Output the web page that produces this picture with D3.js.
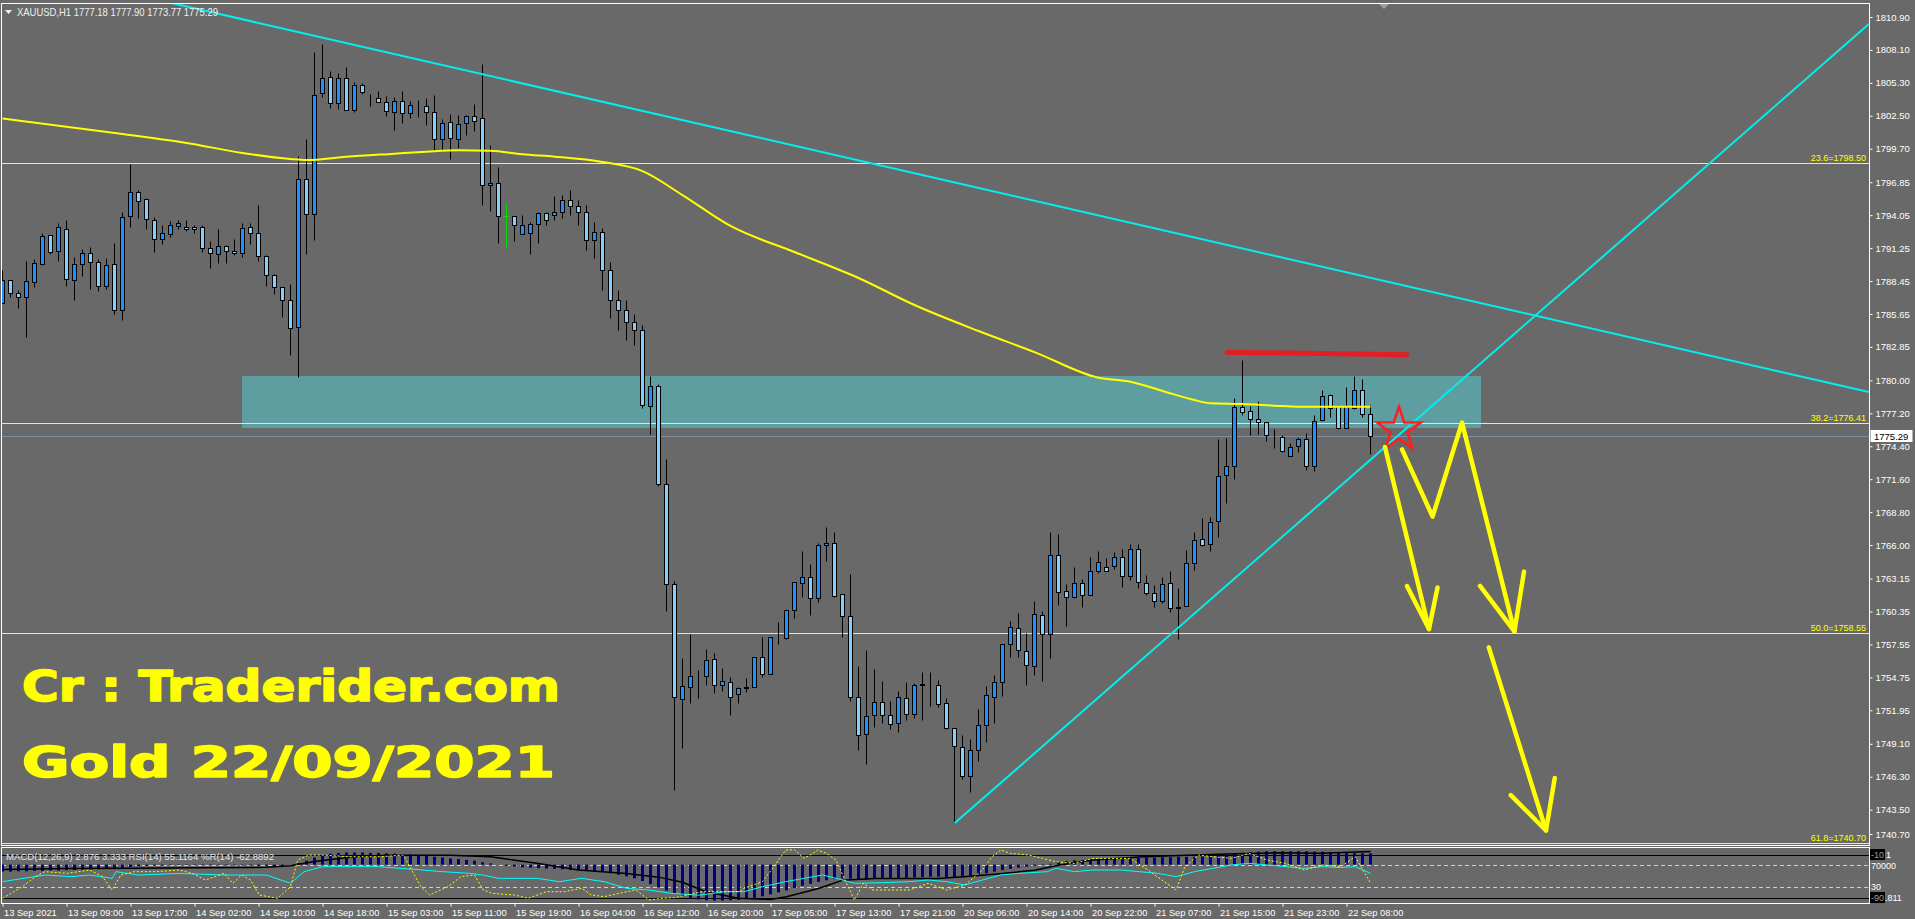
<!DOCTYPE html>
<html><head><meta charset="utf-8">
<script src="https://cdn.jsdelivr.net/npm/d3@7"></script>
<style>
html,body{margin:0;padding:0;background:#696969;overflow:hidden;}
svg{display:block;}
</style></head><body>
<svg id="c" width="1915" height="919"></svg>
<script>
// ---------------- DATA ----------------
const symbolHeader = "XAUUSD,H1  1777.18 1777.90 1773.77 1775.29";
const indicatorHeader = "MACD(12,26,9) 2.876 3.333  RSI(14) 55.1164  %R(14) -62.8892";

const opens = [1786.55,1788.51,1787.40,1787.12,1788.39,1789.92,1792.33,1790.97,1792.84,1788.51,1789.87,1790.80,1790.04,1788.00,1789.87,1785.96,1793.95,1795.99,1795.39,1793.61,1791.99,1792.42,1793.16,1793.01,1793.01,1793.01,1791.23,1790.72,1791.40,1790.97,1790.80,1793.01,1792.50,1790.55,1788.93,1787.91,1786.84,1784.51,1797.10,1794.12,1804.41,1805.77,1803.56,1805.69,1802.96,1805.09,1803.98,1803.98,1803.65,1802.79,1803.73,1802.71,1803.33,1803.30,1802.79,1800.50,1801.94,1800.50,1801.86,1802.45,1802.28,1796.59,1796.76,1793.95,1793.95,1792.42,1792.51,1793.27,1794.21,1794.03,1794.32,1795.34,1794.83,1794.32,1791.94,1792.62,1789.39,1786.84,1785.99,1784.97,1784.28,1777.79,1779.49,1771.16,1762.65,1752.87,1753.90,1754.92,1754.83,1756.28,1754.07,1754.32,1753.30,1753.87,1753.90,1756.45,1755.03,1758.15,1758.07,1760.45,1762.74,1763.25,1761.47,1765.98,1766.15,1761.81,1759.94,1753.05,1749.90,1751.52,1752.62,1751.52,1750.84,1752.96,1751.60,1754.13,1754.13,1754.07,1752.54,1750.41,1748.80,1746.33,1748.54,1750.67,1753.05,1754.33,1757.56,1758.92,1756.96,1755.69,1760.02,1758.41,1765.12,1762.06,1761.55,1762.74,1761.72,1763.76,1764.10,1764.19,1764.95,1763.33,1765.63,1762.74,1761.89,1761.21,1762.74,1760.67,1760.78,1764.44,1766.48,1766.05,1768.01,1771.92,1772.69,1777.70,1777.36,1776.68,1776.43,1775.27,1775.15,1773.54,1774.39,1774.98,1772.69,1776.60,1778.72,1777.79,1775.92,1777.62,1779.15,1777.18];
const highs = [1789.39,1788.51,1787.69,1790.15,1790.32,1792.53,1792.33,1793.38,1793.64,1790.49,1791.17,1791.34,1790.32,1790.41,1791.68,1794.32,1798.40,1796.19,1795.51,1793.89,1793.21,1793.55,1793.64,1793.64,1793.18,1793.18,1791.85,1792.87,1791.51,1792.02,1793.38,1793.38,1794.91,1790.63,1789.05,1787.91,1788.20,1799.08,1800.53,1807.90,1808.60,1806.31,1806.14,1806.65,1805.35,1805.26,1804.33,1804.61,1804.18,1804.07,1804.61,1803.76,1803.81,1803.98,1804.27,1802.23,1802.62,1802.54,1802.57,1803.50,1806.93,1800.02,1798.15,1795.11,1793.95,1794.06,1793.44,1794.29,1794.29,1795.71,1795.76,1796.19,1795.34,1794.91,1793.47,1792.96,1790.07,1787.69,1786.84,1785.65,1784.71,1780.37,1779.69,1773.31,1762.94,1756.39,1758.43,1755.37,1757.15,1756.81,1755.54,1754.77,1753.90,1754.66,1756.45,1758.21,1758.18,1759.46,1760.56,1762.83,1765.49,1764.39,1766.17,1767.53,1767.11,1761.81,1763.54,1755.71,1757.07,1755.46,1754.44,1752.74,1753.59,1754.35,1754.24,1755.20,1755.20,1754.52,1752.99,1750.41,1749.82,1749.48,1752.03,1753.99,1754.92,1757.56,1759.51,1760.19,1758.49,1761.21,1760.36,1767.08,1766.94,1762.66,1764.13,1763.08,1764.95,1765.46,1764.87,1765.38,1765.63,1766.06,1766.06,1763.42,1762.57,1763.25,1763.76,1762.31,1765.54,1767.07,1768.27,1768.35,1775.04,1775.07,1778.47,1781.70,1777.79,1778.21,1776.43,1775.86,1775.32,1774.64,1775.15,1775.49,1777.02,1779.15,1778.84,1777.87,1779.43,1780.37,1780.09,1777.90];
const lows = [1786.55,1787.12,1786.13,1783.72,1787.97,1789.81,1790.77,1790.15,1788.05,1786.83,1788.90,1787.80,1787.63,1787.80,1785.67,1785.16,1793.07,1793.84,1792.90,1790.94,1791.62,1792.22,1792.90,1792.73,1792.50,1790.89,1789.58,1790.01,1790.01,1790.63,1790.46,1791.62,1790.12,1788.05,1787.37,1785.42,1782.16,1780.32,1790.78,1791.94,1804.13,1803.19,1803.11,1802.96,1802.85,1804.33,1803.36,1803.65,1802.51,1801.32,1801.92,1802.34,1802.43,1801.75,1799.62,1799.53,1798.85,1799.79,1800.89,1801.23,1794.89,1794.43,1791.71,1791.29,1791.82,1792.42,1790.72,1791.71,1793.19,1793.61,1793.81,1794.06,1793.21,1791.09,1790.41,1787.69,1785.30,1784.28,1783.43,1783.01,1777.63,1775.47,1771.04,1760.41,1745.19,1748.76,1752.59,1753.02,1754.09,1753.44,1753.61,1751.57,1752.59,1753.53,1753.90,1754.75,1755.03,1757.58,1757.98,1759.82,1761.58,1760.05,1761.18,1764.67,1761.61,1758.21,1752.77,1748.60,1747.41,1750.56,1750.90,1750.33,1750.07,1751.09,1751.32,1751.15,1752.28,1752.20,1750.33,1742.34,1746.08,1745.03,1747.66,1749.22,1750.84,1753.13,1756.51,1756.51,1754.13,1754.98,1754.47,1756.37,1760.93,1759.14,1761.47,1760.76,1761.72,1763.59,1763.76,1763.93,1762.46,1762.99,1762.31,1761.72,1760.75,1761.04,1760.33,1757.98,1760.78,1763.84,1765.88,1765.46,1766.65,1769.60,1771.58,1777.02,1775.38,1775.46,1774.81,1774.22,1773.88,1773.54,1773.88,1772.35,1772.26,1776.51,1776.85,1775.83,1775.92,1777.53,1776.85,1773.77];
const closes = [1788.54,1787.40,1787.12,1788.42,1789.95,1792.25,1790.89,1793.01,1788.59,1789.87,1790.80,1790.04,1788.00,1789.78,1785.96,1793.86,1795.99,1795.22,1793.69,1791.99,1792.50,1793.18,1793.35,1792.84,1792.84,1791.23,1790.80,1791.40,1790.97,1790.80,1792.93,1792.50,1790.55,1788.93,1787.91,1786.81,1784.43,1797.10,1794.12,1804.24,1805.69,1803.56,1805.69,1802.96,1805.09,1804.50,1804.01,1803.65,1802.88,1803.73,1802.71,1803.39,1803.36,1802.79,1800.50,1801.86,1800.58,1801.77,1802.45,1802.03,1796.59,1796.76,1793.95,1793.95,1793.19,1793.19,1793.27,1794.21,1793.61,1794.29,1795.34,1794.83,1794.32,1791.94,1792.62,1789.39,1786.84,1785.99,1784.97,1784.28,1777.91,1779.49,1771.21,1762.65,1753.04,1753.98,1754.83,1754.95,1756.19,1754.07,1754.41,1753.04,1753.81,1753.90,1756.45,1755.03,1758.18,1758.18,1760.45,1762.83,1763.25,1761.47,1765.98,1766.15,1761.69,1759.94,1753.05,1749.82,1751.43,1752.62,1751.52,1750.75,1753.05,1751.60,1754.07,1754.16,1754.10,1752.45,1750.41,1748.88,1746.33,1748.54,1750.67,1753.22,1754.33,1757.56,1759.00,1757.05,1755.77,1760.11,1758.41,1765.12,1761.98,1761.55,1762.74,1761.72,1763.76,1764.53,1763.76,1764.95,1763.33,1765.63,1762.82,1761.89,1761.21,1762.65,1760.61,1760.70,1764.44,1766.39,1765.97,1767.93,1771.84,1772.69,1777.70,1777.28,1776.68,1776.43,1775.32,1775.30,1773.96,1774.30,1774.98,1772.69,1776.51,1778.64,1777.62,1775.92,1777.79,1779.15,1777.11,1775.29];

// moving average (read at sample bars)
const maBars = [0,15,23,30,36,38,43,49,53,57,61,65,69,75,80,85,91,99,107,114,122,129,137,141,145,149,151,155,159,162,171];
const maVals = [1802.27,1800.95,1800.19,1799.34,1798.83,1798.74,1799.02,1799.28,1799.45,1799.57,1799.53,1799.22,1799.02,1798.57,1797.80,1795.76,1793.13,1790.92,1788.71,1786.41,1784.20,1782.41,1780.23,1779.89,1779.10,1778.33,1778.05,1777.99,1777.85,1777.76,1777.76];

// price axis ticks
const priceTicks = [1810.90,1808.10,1805.30,1802.50,1799.70,1796.85,1794.05,1791.25,1788.45,1785.65,1782.85,1780.00,1777.20,1774.40,1771.60,1768.80,1766.00,1763.15,1760.35,1757.55,1754.75,1751.95,1749.10,1746.30,1743.50,1740.70];
const lastPrice = 1775.29;

// time axis
const timeBars = [0,8,16,24,32,40,48,56,64,72,80,88,96,104,112,120,128,136,144,152,160,168];
const timeLabels = ["13 Sep 2021","13 Sep 09:00","13 Sep 17:00","14 Sep 02:00","14 Sep 10:00","14 Sep 18:00","15 Sep 03:00","15 Sep 11:00","15 Sep 19:00","16 Sep 04:00","16 Sep 12:00","16 Sep 20:00","17 Sep 05:00","17 Sep 13:00","17 Sep 21:00","20 Sep 06:00","20 Sep 14:00","20 Sep 22:00","21 Sep 07:00","21 Sep 15:00","21 Sep 23:00","22 Sep 08:00"];

// fibonacci levels
const fibPrices = [1798.50,1776.41,1758.55,1740.70];
const fibLabels = ["23.6=1798.50","38.2=1776.41","50.0=1758.55","61.8=1740.70"];

// drawn objects (bar index, price)
const zoneBars = [29.98,184.9];
const zonePrices = [1780.37,1775.99];
const trendDownBars = [21.0,233.3];
const trendDownPrices = [1812.11,1779.01];
const trendUpBars = [119,233.3];
const trendUpPrices = [1742.34,1810.30];
const redLineBars = [153.06,175.56];
const redLinePrices = [1782.39,1782.19];
const starBar = 174.56, starPrice = 1775.81;
const arrowPaths = [
  {bars:[172.81,178.31], prices:[1774.34,1758.86], headBars:[175.56,179.38], headPrices:[1762.52,1762.39]},
  {bars:[174.94,178.76,182.44,188.99], prices:[1774.13,1768.42,1776.41,1758.66], headBars:[184.69,190.19], headPrices:[1762.52,1763.74]},
  {bars:[185.79,192.94], prices:[1757.30,1741.73], headBars:[188.53,194.03], headPrices:[1744.74,1746.19]}
];
const watermark = ["Cr : Traderider.com","Gold 22/09/2021"];

// indicators
const macdHist = [-1.8,-1.8,-1.7,-1.7,-1.6,-1.6,-1.5,-1.5,-1.4,-1.4,-1.3,-1.2,-1.2,-1.1,-1.0,
 -0.8,-0.6,-0.4,-0.3,-0.2,-0.2,-0.1,-0.1,-0.1,-0.1,-0.1,-0.1,-0.1,-0.2,-0.2,-0.2,-0.2,-0.3,-0.3,-0.4,-0.4,
 0.0,0.4,1.0,1.8,2.4,
 2.8,3.0,3.1,3.1,3.1,3.0,3.0,2.9,2.8,2.7,2.6,2.4,
 2.2,2.0,1.8,1.6,1.4,1.2,1.0,0.6,0.3,0.0,-0.3,-0.5,
 -0.7,-0.8,-0.9,-1.0,-1.1,-1.2,-1.3,-1.4,-1.5,-1.7,-1.9,
 -2.2,-2.6,-3.0,-3.5,-4.2,-5.0,-5.8,-6.6,-7.4,
 -8.0,-8.5,-8.9,-9.1,-9.2,-9.2,-9.1,-9.0,-8.8,-8.5,-8.1,
 -7.6,-7.1,-6.6,-6.0,-5.4,-4.9,-4.4,-4.0,
 -3.7,-3.5,-3.6,-3.8,-3.8,-3.7,-3.6,-3.6,-3.5,-3.4,-3.3,-3.2,-3.1,-3.1,-3.2,-3.3,-3.3,
 -3.0,-2.6,-2.2,-1.8,-1.4,-1.1,-0.8,-0.5,-0.3,-0.1,
 0.2,0.6,0.9,1.1,1.2,1.3,1.4,1.5,1.5,1.6,1.6,
 1.7,1.8,1.8,1.9,1.9,2.0,2.0,2.0,2.1,2.2,2.4,
 2.6,2.8,3.0,3.2,3.3,3.4,3.4,3.4,3.4,3.4,3.4,3.3,3.3,3.2,3.1,3.0,2.9,2.9,2.876];
const signalBars = [0,8,16,25,33,36,39,44,48,56,61,67,72,78,82,85,88,92,96,98,102,105,109,117,121,125,129,132,136,142,148,154,159,165,171];
const signalVals = [-1.25,-1.0,-0.9,-0.8,-0.7,-0.3,0.8,2.0,2.4,2.4,2.0,0.3,-1.4,-2.3,-3.2,-4.5,-7.0,-8.6,-8.9,-8.2,-6.1,-4.0,-3.55,-3.55,-2.95,-2.27,-1.42,-0.15,1.12,1.96,2.39,2.8,3.0,2.9,3.333];
const rsiBars = [0,5.3,8.6,10.9,13.7,14.2,17,22,28,33,36,37.7,40,47,52,55,58.4,60,62,66.8,69.6,72.4,75.2,78,80.8,83.6,87,90.4,92.7,95,97.9,100.2,102.5,104.2,106.5,110,113.4,115.7,118,120.3,122.5,124.8,127.1,130.6,131.7,134,136.3,139.8,142.1,144.4,146.7,149,151.3,153.6,155.8,158.1,160.4,162.7,165,167.3,169.1,171];
const rsiVals = [39.7,52.1,49.0,52.1,45.9,58.3,52,55,52,52,36.6,58.3,67.6,67.6,62,58.3,55.2,52.1,45.9,45.9,39.7,45.9,39.7,27.3,24.2,18.0,14.5,21.1,21.1,30.4,39.7,45.9,52.1,45.9,36.6,37.8,39.7,42.8,39.7,33.5,42.8,52.1,55.2,58.3,64.5,58.3,61.4,61.4,58.3,55.2,49.0,58.3,64.5,70.7,73.8,70.7,67.6,64.5,67.6,66,67.6,55.1];
const wprBars = [0,2.5,4.1,5.3,8.1,10.9,12.5,13.7,14.8,16.5,19.3,22.1,23.7,25.4,27.7,28.8,29.9,31,32.1,34.4,36,36.9,38.3,40,43.3,47.3,50.1,52.3,53.4,55.7,57.3,59,60.1,61.2,64,65.7,68,70.2,72.4,73.6,75.2,78,79.2,80.8,82.5,84,87.5,92.1,92.7,95,96.1,97.9,99,100.2,101.3,101.9,103,104.2,105.3,106.5,107.6,108.8,111.1,113.4,115.7,118,120.3,122.5,123.7,124.8,126,128.3,130,131.7,134,136.3,138.6,140.9,143.2,145.5,146.7,147.8,149.5,151.3,153.6,155.8,158.1,160.4,162.7,165,167.3,169.1,171];
const wprVals = [-91.3,-69.6,-51,-41.7,-44.8,-38.6,-51,-75.8,-47.9,-41.7,-41.7,-38.6,-44.8,-57.2,-44.8,-63.4,-47.9,-57.2,-85.1,-91.3,-69.6,-20.1,-10.8,-10.8,-13.9,-13.9,-10.8,-69.6,-85.1,-69.6,-51,-47.9,-75.8,-82,-85.1,-91.3,-78.9,-78.9,-72.7,-85.1,-88.2,-78.9,-75.8,-94.4,-91.3,-90,-78.9,-78.9,-72.7,-60.3,-38.6,-1.5,-1,-17,-7.7,-1.5,-7.7,-20.1,-57.2,-94.4,-63.4,-75.8,-75.8,-75.8,-63.4,-75.8,-66.5,-38.6,-13.9,-1.5,-7.7,-10.8,-17,-23.3,-26.4,-17,-17,-17,-38.6,-63.4,-75.8,-32.4,-10.8,-13.9,-17,-7.7,-20.1,-26.4,-38.6,-29.3,-32.4,-13.9,-62.9];
const rsiLevels = [70,30];
const wprLevels = [-10,-90];

// ---------------- DRAW ----------------
const BG = "#696969";
const FONT = "'Liberation Sans', Arial, sans-serif";
const svg = d3.select("#c");
svg.append("rect").attr("width",1915).attr("height",919).attr("fill",BG);

const x = d3.scaleLinear().domain([0,171]).range([2.5,1370.5]);
const y = d3.scaleLinear().domain([1740.70,1810.90]).range([842.6,17]);
const py = v => Math.round(y(v)) + 0.5;

const defs = svg.append("defs");
defs.append("clipPath").attr("id","mainClip").append("rect").attr("x",2).attr("y",4).attr("width",1867).attr("height",841);
defs.append("clipPath").attr("id","indClip").append("rect").attr("x",2).attr("y",848).attr("width",1867).attr("height",55);

const main = svg.append("g").attr("clip-path","url(#mainClip)");

// zone rectangle
main.append("rect")
  .attr("x", Math.round(x(zoneBars[0])))
  .attr("y", Math.round(y(zonePrices[0])))
  .attr("width", Math.round(x(zoneBars[1]) - x(zoneBars[0])))
  .attr("height", Math.round(y(zonePrices[1]) - y(zonePrices[0])))
  .attr("fill","#5F9EA0");

// fib lines
main.selectAll("line.fib").data(fibPrices).join("line")
  .attr("x1",0).attr("x2",1869).attr("y1",d=>py(d)).attr("y2",d=>py(d))
  .attr("stroke","#FFFF00").attr("stroke-width",1);
main.selectAll("text.fib").data(fibLabels).join("text")
  .attr("x",1866).attr("y",(d,i)=>py(fibPrices[i]) - 2.5)
  .attr("text-anchor","end").attr("fill","#FFFF00")
  .style("font-family",FONT).style("font-size","9px").text(d=>d);

// current price line
main.append("line").attr("x1",0).attr("x2",1869).attr("y1",py(lastPrice)).attr("y2",py(lastPrice))
  .attr("stroke","#7B8FA3").attr("stroke-width",1);

// candles
const bars = d3.range(opens.length).map(i=>({i,o:opens[i],h:highs[i],l:lows[i],c:closes[i]}));
const cg = main.append("g");
bars.forEach(b=>{
  const cx = x(b.i);
  const isDoji = b.o === b.c;
  cg.append("line").attr("x1",cx).attr("x2",cx).attr("y1",py(b.h)).attr("y2",py(b.l))
    .attr("stroke", isDoji ? "#00DD00" : "#000").attr("stroke-width",1);
  if (isDoji) {
    cg.append("line").attr("x1",cx-3).attr("x2",cx+3).attr("y1",py(b.o)).attr("y2",py(b.o))
      .attr("stroke","#00DD00").attr("stroke-width",1);
  } else {
    const top = py(Math.max(b.o,b.c)), bot = py(Math.min(b.o,b.c));
    cg.append("rect").attr("x",cx-2).attr("y",top).attr("width",4).attr("height",Math.max(bot-top,0))
      .attr("fill", b.c > b.o ? "#1E90FF" : "#87CEFA").attr("stroke","#000").attr("stroke-width",1);
  }
});

// moving average
main.append("path").datum(maBars.map((b,k)=>[b,maVals[k]]))
  .attr("d", d3.line().x(d=>x(d[0])).y(d=>y(d[1])).curve(d3.curveMonotoneX))
  .attr("fill","none").attr("stroke","#FFFF00").attr("stroke-width",2);

// trend lines
[[trendDownBars,trendDownPrices],[trendUpBars,trendUpPrices]].forEach(([bs,ps])=>{
  main.append("line").attr("x1",x(bs[0])).attr("y1",y(ps[0])).attr("x2",x(bs[1])).attr("y2",y(ps[1]))
    .attr("stroke","#00F0F0").attr("stroke-width",2);
});

// red resistance line
main.append("line").attr("x1",x(redLineBars[0])).attr("y1",y(redLinePrices[0]))
  .attr("x2",x(redLineBars[1])).attr("y2",y(redLinePrices[1]))
  .attr("stroke","#E31E24").attr("stroke-width",5).attr("stroke-linecap","round");

// star
{
  const cx = x(starBar), cy = y(starPrice), rO = 23, rI = 9;
  const pts = d3.range(10).map(k=>{const r = k%2 ? rI : rO; const a = -Math.PI/2 + k*Math.PI/5; return [cx+r*Math.cos(a), cy+r*Math.sin(a)];});
  main.append("polygon").attr("points",pts.map(p=>p.join(",")).join(" "))
    .attr("fill","none").attr("stroke","#FF1E1E").attr("stroke-width",2.5).attr("stroke-linejoin","miter");
}

// arrows
const aLine = d3.line().x(d=>x(d[0])).y(d=>y(d[1]));
arrowPaths.forEach(a=>{
  const pts = a.bars.map((b,k)=>[b,a.prices[k]]);
  const tip = pts[pts.length-1];
  main.append("path").datum(pts).attr("d",aLine).attr("fill","none")
    .attr("stroke","#FFFF00").attr("stroke-width",4.5).attr("stroke-linecap","round").attr("stroke-linejoin","round");
  main.append("path").datum([[a.headBars[0],a.headPrices[0]],tip,[a.headBars[1],a.headPrices[1]]]).attr("d",aLine).attr("fill","none")
    .attr("stroke","#FFFF00").attr("stroke-width",4.5).attr("stroke-linecap","round").attr("stroke-linejoin","round");
});

// watermark texts
svg.selectAll("text.wm").data(watermark).join("text")
  .attr("x",22).attr("y",(d,i)=> i===0 ? 701 : 777)
  .attr("textLength",(d,i)=> i===0 ? 538 : 533).attr("lengthAdjust","spacingAndGlyphs")
  .attr("fill","#FFFF00").attr("stroke","#FFFF00").attr("stroke-width",1.6).attr("stroke-linejoin","round")
  .style("font-family","'DejaVu Sans', sans-serif").style("font-weight","bold")
  .style("font-size","43px").text(d=>d);

// chart shift marker
svg.append("polygon").attr("points","1379,4 1389,4 1384,9").attr("fill","#a0a0a0");

// header
svg.append("polygon").attr("points","5,10 12,10 8.5,14").attr("fill","#f0f0f0");
svg.append("text").attr("x",17).attr("y",16).attr("textLength",201).attr("lengthAdjust","spacingAndGlyphs")
  .attr("fill","#f0f0f0").style("font-family",FONT).style("font-size","10.5px").text(symbolHeader);

// frames
svg.append("rect").attr("x",1.5).attr("y",3.5).attr("width",1868).attr("height",842).attr("fill","none").attr("stroke","#fff");
svg.append("rect").attr("x",1.5).attr("y",847.5).attr("width",1868).attr("height",56).attr("fill","none").attr("stroke","#fff");

// price axis
const yAxis = d3.axisRight(y).tickValues(priceTicks).tickFormat(d3.format(".2f")).tickSize(3).tickPadding(3);
const gy = svg.append("g").attr("transform","translate(1869.5,0)").call(yAxis);
gy.select(".domain").remove();
gy.attr("font-family",FONT).attr("font-size",9.5);
gy.selectAll(".tick line").attr("stroke","#fff");
gy.selectAll(".tick text").attr("fill","#fff");
gy.selectAll(".tick").filter(d=>d===1740.70).attr("transform","translate(0,834.5)");

// last price box
svg.append("rect").attr("x",1870.5).attr("y",Math.round(y(lastPrice))-6).attr("width",42).attr("height",12).attr("fill","#fff");
svg.append("text").attr("x",1874).attr("y",Math.round(y(lastPrice))+3.5).attr("fill","#000")
  .style("font-family",FONT).style("font-size","9.5px").text(lastPrice.toFixed(2));

// time axis
const xAxis = d3.axisBottom(x).tickValues(timeBars).tickFormat((d,i)=>timeLabels[i]).tickSize(3);
const gx = svg.append("g").attr("transform","translate(0,903.5)").call(xAxis);
gx.select(".domain").remove();
gx.attr("font-family",FONT).attr("font-size",9.3);
gx.selectAll(".tick line").attr("stroke","#fff");
gx.selectAll(".tick text").attr("fill","#fff").attr("text-anchor","start").attr("x",1).attr("y",12).attr("dy",0);

// ---------------- INDICATOR WINDOW ----------------
const yInd = d3.scaleLinear().domain([0,100]).range([903,849.25]);
const yW = d3.scaleLinear().domain([-100,0]).range([903,849.25]);
const yM = d3.scaleLinear().domain([-9.811,4.5]).range([903,847]);
const ind = svg.append("g").attr("clip-path","url(#indClip)");

ind.selectAll("line.lvl").data(rsiLevels).join("line")
  .attr("x1",2).attr("x2",1869).attr("y1",d=>Math.round(yInd(d))+0.5).attr("y2",d=>Math.round(yInd(d))+0.5)
  .attr("stroke","#d0d0d0").attr("stroke-dasharray","4,3");
ind.selectAll("line.wl").data(wprLevels).join("line")
  .attr("x1",2).attr("x2",1869).attr("y1",d=>Math.round(yW(d))+0.5).attr("y2",d=>Math.round(yW(d))+0.5)
  .attr("stroke","#000");

ind.selectAll("rect.h").data(macdHist).join("rect")
  .attr("x",(d,i)=>x(i)-1.5).attr("width",3)
  .attr("y",d=>Math.min(yM(0),yM(d))).attr("height",d=>Math.abs(yM(d)-yM(0)))
  .attr("fill","#00008B");

ind.append("path").datum(signalBars.map((b,k)=>[b,signalVals[k]]))
  .attr("d",d3.line().x(d=>x(d[0])).y(d=>yM(d[1])))
  .attr("fill","none").attr("stroke","#000").attr("stroke-width",1.5);
ind.append("path").datum(rsiBars.map((b,k)=>[b,rsiVals[k]]))
  .attr("d",d3.line().x(d=>x(d[0])).y(d=>yInd(d[1])))
  .attr("fill","none").attr("stroke","#00FFFF").attr("stroke-width",1);
ind.append("path").datum(wprBars.map((b,k)=>[b,wprVals[k]]))
  .attr("d",d3.line().x(d=>x(d[0])).y(d=>yW(d[1])))
  .attr("fill","none").attr("stroke","#FFFF00").attr("stroke-width",1).attr("stroke-dasharray","2,2");

svg.append("text").attr("x",6).attr("y",860).attr("textLength",268).attr("lengthAdjust","spacingAndGlyphs")
  .attr("fill","#e8e8e8").style("font-family",FONT).style("font-size","9.5px").text(indicatorHeader);

// indicator right scale labels
const rl = svg.append("g").style("font-family",FONT).style("font-size","9px");
rl.append("rect").attr("x",1870).attr("y",849).attr("width",15).attr("height",11).attr("fill","#000");
rl.append("text").attr("x",1871).attr("y",857.5).attr("fill","#a0a0a0").text("-10");
rl.append("text").attr("x",1886).attr("y",857.5).attr("fill","#fff").text("1");
rl.append("text").attr("x",1871).attr("y",868.5).attr("fill","#fff").text("70000");
rl.append("text").attr("x",1871).attr("y",890).attr("fill","#fff").text("30");
rl.append("rect").attr("x",1870).attr("y",892).attr("width",15).attr("height",11).attr("fill","#000");
rl.append("text").attr("x",1871).attr("y",900.5).attr("fill","#a0a0a0").text("-90");
rl.append("text").attr("x",1885).attr("y",900.5).attr("fill","#fff").text(".811");
</script>
</body></html>
